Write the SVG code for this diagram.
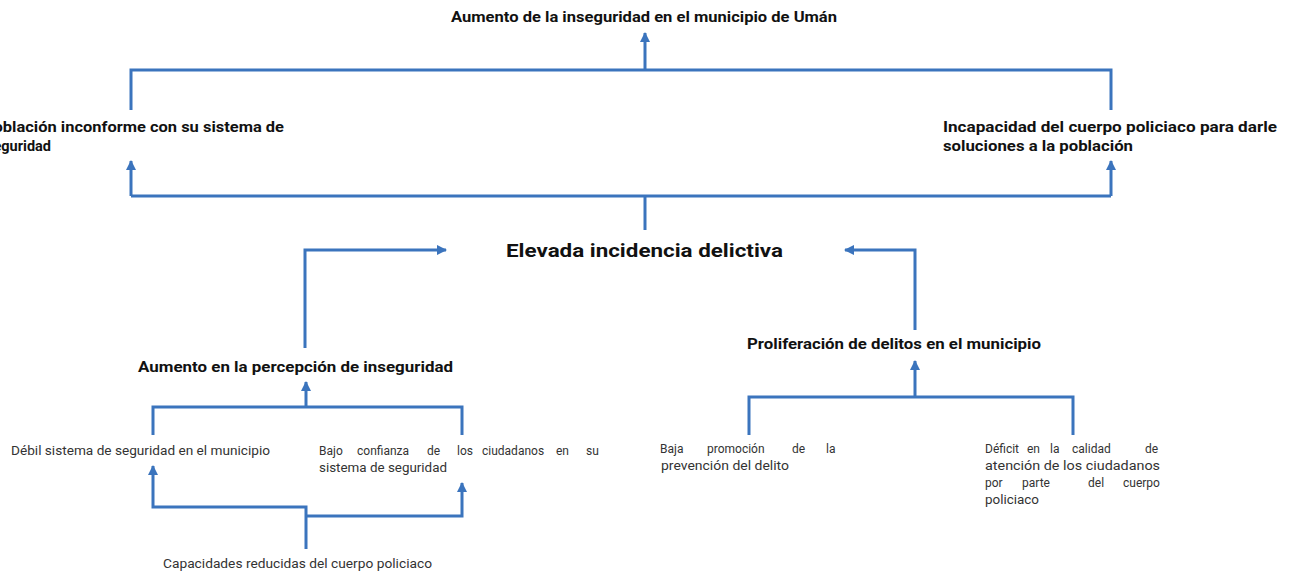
<svg xmlns="http://www.w3.org/2000/svg" width="1293" height="577" viewBox="0 0 1293 577">
<style>
.ln{fill:none;stroke:#3b74bd;stroke-width:3;stroke-linejoin:miter}
.b{font-family:Roboto,"Liberation Sans",sans-serif;font-weight:bold;font-size:14px;fill:#111}
.bl{font-family:Roboto,"Liberation Sans",sans-serif;font-weight:bold;font-size:19px;fill:#111}
.r{font-family:Roboto,"Liberation Sans",sans-serif;font-size:12px;fill:#333}
</style>
<defs>
<marker id="ah" viewBox="0 0 10 10" refX="9" refY="5" markerWidth="3.5" markerHeight="3.5" orient="auto" markerUnits="strokeWidth">
<path d="M0,0 L10,5 L0,10 z" fill="#3b74bd"/>
</marker>
</defs>
<g id="connectors">
<path class="ln" d="M645,70 V33" marker-end="url(#ah)"/>
<path class="ln" d="M131,110 V70 H1111 V110"/>
<path class="ln" d="M645,230 V196"/>
<path class="ln" d="M131,196 H1111"/>
<path class="ln" d="M131,196 V161" marker-end="url(#ah)"/>
<path class="ln" d="M1111,196 V161" marker-end="url(#ah)"/>
<path class="ln" d="M305,348 V250 H446" marker-end="url(#ah)"/>
<path class="ln" d="M915,330 V250 H845" marker-end="url(#ah)"/>
<path class="ln" d="M306,407 V382" marker-end="url(#ah)"/>
<path class="ln" d="M153,435 V407 H462 V435"/>
<path class="ln" d="M306,549 V507 H153 V466" marker-end="url(#ah)"/>
<path class="ln" d="M306,516 H462 V483" marker-end="url(#ah)"/>
<path class="ln" d="M915,397 V361" marker-end="url(#ah)"/>
<path class="ln" d="M749,435 V397 H1073 V435"/>
</g>
<g id="n_top"><text class="b" x="451" y="22" textLength="386" lengthAdjust="spacingAndGlyphs">Aumento de la inseguridad en el municipio de Umán</text></g>
<g id="n_left"><text class="b" x="-17" y="132" textLength="301" lengthAdjust="spacingAndGlyphs">Población inconforme con su sistema de</text><text class="b" x="-14" y="151" textLength="65" lengthAdjust="spacingAndGlyphs">seguridad</text></g>
<g id="n_right"><text class="b" x="943" y="132" textLength="334" lengthAdjust="spacingAndGlyphs">Incapacidad del cuerpo policiaco para darle</text><text class="b" x="943" y="151" textLength="190" lengthAdjust="spacingAndGlyphs">soluciones a la población</text></g>
<g id="n_center"><text class="bl" x="506" y="257" textLength="277" lengthAdjust="spacingAndGlyphs">Elevada incidencia  delictiva</text></g>
<g id="n_percep"><text class="b" x="138" y="372" textLength="315" lengthAdjust="spacingAndGlyphs">Aumento en la percepción de inseguridad</text></g>
<g id="n_prolif"><text class="b" x="747" y="349" textLength="294" lengthAdjust="spacingAndGlyphs">Proliferación de delitos en el municipio</text></g>
<g id="n_debil"><text class="r" x="11" y="455" textLength="259" lengthAdjust="spacingAndGlyphs">Débil sistema de seguridad en el municipio</text></g>
<g id="n_bajo"><text class="r" y="455"><tspan x="319">Bajo</tspan> <tspan x="357">confianza</tspan> <tspan x="427">de</tspan> <tspan x="457">los</tspan> <tspan x="482">ciudadanos</tspan> <tspan x="556">en</tspan> <tspan x="586">su</tspan></text><text class="r" x="319" y="472" textLength="128" lengthAdjust="spacingAndGlyphs">sistema de seguridad</text></g>
<g id="n_capac"><text class="r" x="163" y="568" textLength="269" lengthAdjust="spacingAndGlyphs">Capacidades reducidas del cuerpo policiaco</text></g>
<g id="n_baja"><text class="r" y="453"><tspan x="660">Baja</tspan> <tspan x="707">promoción</tspan> <tspan x="792">de</tspan> <tspan x="826">la</tspan></text><text class="r" x="661" y="470" textLength="128" lengthAdjust="spacingAndGlyphs">prevención del delito</text></g>
<g id="n_deficit"><text class="r" y="453"><tspan x="985">Déficit</tspan> <tspan x="1027">en</tspan> <tspan x="1050">la</tspan> <tspan x="1072">calidad</tspan> <tspan x="1145">de</tspan></text><text class="r" x="985" y="470" textLength="175" lengthAdjust="spacingAndGlyphs">atención de los ciudadanos</text><text class="r" y="487"><tspan x="985">por</tspan> <tspan x="1022">parte</tspan> <tspan x="1088">del</tspan> <tspan x="1123">cuerpo</tspan></text><text class="r" x="985" y="504" textLength="54" lengthAdjust="spacingAndGlyphs">policiaco</text></g>
</svg>
